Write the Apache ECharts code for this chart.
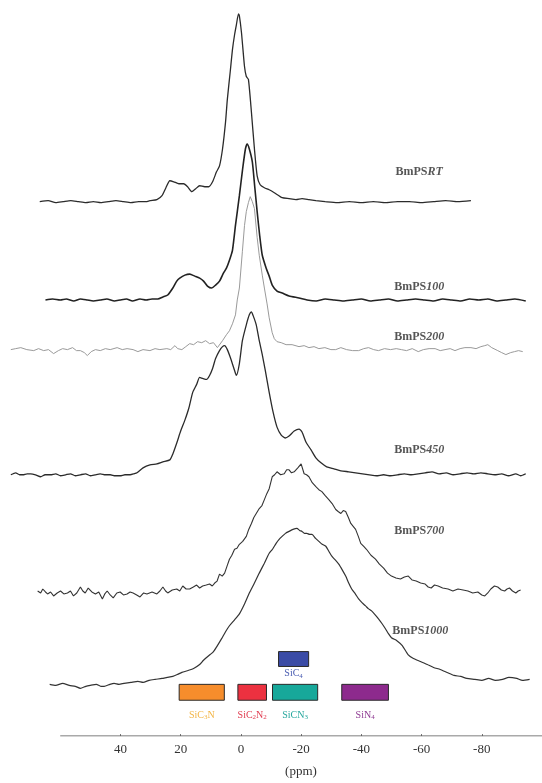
<!DOCTYPE html>
<html>
<head>
<meta charset="utf-8">
<title>29Si MAS NMR – BmPS series</title>
<script src="https://cdn.jsdelivr.net/npm/echarts@6/dist/echarts.min.js"></script>
<style>
  html, body { margin: 0; padding: 0; background: #fff; }
  #chart { width: 542px; height: 783px; }
</style>
</head>
<body>
<div id="chart"></div>
<script>
// Chemical shift tick labels (ppm)
const ppmTicks = [40, 20, 0, -20, -40, -60, -80];
// Extent of the drawn ppm axis line
const axisSpan = [60, -100];

// Spectrum names and their italic suffixes
const sampleNames = ['BmPS', 'BmPS', 'BmPS', 'BmPS', 'BmPS', 'BmPS'];
const sampleSuffix = ['RT', '100', '200', '450', '700', '1000'];

// Vertical offset of each trace in the stack (intensity units)
const traceOffsets = [538, 439, 389, 263, 144, 51];

// Label anchor for each trace: [ppm, height]
const labelPpm = [-59.2, -59.2, -59.2, -59.2, -59.2, -59.6];
const labelHeight = [568, 452, 402, 288, 206, 106];

// Traces: [ppm, intensity above own baseline]
const specRT = [[66.8,0],[64,1],[61.5,-1],[59,0],[56.5,1],[54,0],[51.5,-1],[49,0],[46.5,-1],[44,0],[41.5,1],[39,0],[36.5,-1],[34,0],[31.5,0],[30.2,1],[27.9,2],[26.2,6],[24.9,14],[23.6,21],[22.3,20],[20.6,18],[19.0,18],[17.7,15],[16.3,10],[15.0,13],[13.7,16],[12.0,15],[10.7,15],[9.4,20],[8.1,30],[7.1,36],[6.1,53],[5.1,80],[4.5,103],[3.5,132],[2.8,153],[2.1,168],[1.5,178],[0.8,189],[0.5,187],[-0.2,170],[-1.2,136],[-1.8,126],[-2.5,123],[-3.5,90],[-4.5,53],[-5.4,26],[-6.4,17],[-7.8,14],[-9.4,12],[-11.1,9],[-13.7,4],[-16.0,3],[-18.3,2],[-20.3,3],[-22.6,2],[-24.9,1],[-28,0],[-32,-1],[-36,0],[-40,-1],[-44,0],[-48,-1],[-52,0],[-56,0],[-60,-1],[-64,0],[-68,1],[-72,0],[-76.4,1]];

const spec100 = [[64.9,0],[62.5,1],[60,0],[58,1],[55.5,-1],[53.3,1],[51,0],[49,-1],[46.7,0],[44.5,1],[42,-1],[40.1,0],[38,1],[36,-1],[33.5,1],[31.5,0],[29.5,1],[27.6,1],[25.9,3],[24.3,5],[22.6,12],[21.3,19],[20.3,22],[18.6,25],[17.0,26],[15.3,24],[13.7,22],[12.4,19],[11.1,14],[9.7,12],[8.4,15],[7.1,19],[5.8,27],[4.8,32],[3.8,40],[2.8,50],[1.8,75],[0.5,105],[-0.5,130],[-1.5,152],[-2.1,157],[-2.8,152],[-3.8,139],[-4.6,114],[-5.4,89],[-6.2,66],[-7.1,45],[-8.4,32],[-9.4,24],[-10.4,15],[-12,9],[-13.7,7],[-16,4],[-19.3,2],[-22,0],[-25,-1],[-28,1],[-31,0],[-34,-1],[-37,0],[-40,1],[-43,-1],[-46,0],[-49,1],[-52,-1],[-55,0],[-58,1],[-61,0],[-64,-1],[-67,1],[-70,0],[-73,-1],[-76,1],[-79,0],[-82,1],[-85,-1],[-88,0],[-91,1],[-94.6,-1]];

const spec200 = [[76.4,0],[74.8,1],[73.1,2],[71.1,0],[68.8,-1],[67.2,1],[65.5,-1],[63.9,0],[62.2,-4],[60.6,-1],[59.2,1],[57.6,0],[55.9,2],[54.6,-1],[53.3,-1],[52.0,-3],[51.0,-6],[49.7,-2],[48.3,0],[46.7,-1],[45.0,1],[43.4,0],[41.1,2],[39.4,0],[37.8,1],[35.8,0],[34.2,-2],[32.5,0],[30.2,-1],[28.5,1],[26.9,0],[24.6,1],[23.3,0],[21.9,4],[21.0,1],[19.6,0],[18.3,3],[17.0,6],[15.7,5],[14.4,8],[13.0,7],[11.7,9],[10.4,6],[9.1,7],[7.8,2],[6.1,9],[4.8,15],[3.8,19],[2.8,26],[1.8,35],[1.2,50],[0.5,62],[-0.5,99],[-1.2,125],[-1.8,139],[-2.5,148],[-3.1,154],[-3.8,149],[-4.5,142],[-5.4,113],[-6.1,95],[-7.1,75],[-7.8,62],[-8.7,46],[-9.4,32],[-10.4,17],[-11.1,11],[-12.0,8],[-13.4,7],[-15.0,5],[-17.0,5],[-19.3,3],[-21.0,4],[-22.6,2],[-24.3,3],[-25.9,1],[-27.9,2],[-29.9,0],[-31.5,0],[-33.2,2],[-35.1,0],[-37.1,-1],[-39.1,-1],[-40.8,1],[-42.4,2],[-44.1,0],[-45.7,-1],[-47.7,1],[-49.7,0],[-51.6,1],[-53.3,0],[-55.0,-1],[-56.9,1],[-58.9,-2],[-60.6,0],[-62.5,1],[-64.5,1],[-66.2,-1],[-67.8,0],[-69.5,1],[-71.1,-1],[-72.8,1],[-74.4,2],[-76.4,2],[-78.1,1],[-79.7,3],[-81.0,4],[-82.0,5],[-83.3,2],[-85.3,-1],[-86.6,-3],[-88.0,-5],[-89.6,-3],[-90.9,-2],[-92.2,-1],[-93.6,-2]];

const spec450 = [[76.4,0],[74.8,2],[73.5,0],[72.4,0],[71,1],[69.8,1],[68.2,0],[66.5,-2],[65,0],[63.2,0],[61.5,1],[59.9,-1],[58.2,0],[56.6,1],[55,-1],[53.3,0],[51.6,1],[50.0,-1],[48.4,0],[46.7,1],[45,0],[43.4,0],[41.7,-1],[40.1,-1],[38.5,0],[36.8,0],[35.5,1],[34.5,2],[32.5,7],[30.2,10],[27.9,11],[25.9,13],[23.6,15],[22.6,21],[21.3,32],[20.0,44],[18.6,55],[17.3,67],[16.0,83],[14.7,91],[13.7,98],[12.7,97],[11.4,96],[10.4,100],[9.4,107],[8.4,117],[7.1,125],[6.1,129],[5.4,130],[4.5,126],[3.5,118],[2.1,105],[1.5,100],[0.5,112],[-0.5,135],[-1.8,151],[-2.8,161],[-3.5,164],[-4.1,160],[-5.1,151],[-6.1,135],[-7.1,121],[-8.1,105],[-9.4,83],[-10.7,63],[-12.0,48],[-13.4,40],[-14.7,37],[-16.0,39],[-17.7,44],[-19.3,46],[-20.3,43],[-21.6,33],[-23.3,25],[-24.9,17],[-26.6,12],[-28.5,8],[-30.9,6],[-33.2,4],[-35.8,3],[-38.1,2],[-40.4,1],[-42.7,0],[-45.0,-1],[-47.4,0],[-49.7,-1],[-52.0,0],[-54.3,1],[-56.6,0],[-58.9,1],[-61.2,2],[-63.5,3],[-65.8,1],[-68.2,2],[-70.5,0],[-72.8,1],[-75.1,2],[-77.4,1],[-79.7,2],[-82.0,1],[-84.3,0],[-86.6,1],[-88.9,-1],[-91.3,1],[-92.9,-1],[-94.6,1]];

const spec700 = [[67.5,2],[66.5,0],[65.8,4],[64.9,1],[64.2,-1],[63.2,1],[62.2,-3],[61,0],[59.9,2],[58.8,-1],[57.6,0],[56.6,2],[55.6,-3],[54.5,0],[53.3,6],[52.5,2],[51.7,0],[50.7,5],[49.5,1],[48.3,-1],[47.2,1],[46.0,-6],[45.2,-1],[44.4,2],[43.4,-2],[42.4,-5],[41.2,0],[40.1,1],[39,-2],[37.8,-1],[36.8,1],[35.8,0],[34.6,-2],[33.5,-4],[32.3,0],[31.2,-1],[29.5,1],[27.9,-1],[26.9,2],[25.9,6],[25,2],[24.3,0],[22.8,3],[21.3,4],[20.3,2],[19.3,7],[18.2,4],[17.0,4],[15.8,6],[14.7,8],[13.7,5],[12.7,7],[11.5,8],[10.4,9],[9.5,7],[8.7,10],[7.9,12],[7.1,19],[6.2,17],[5.4,20],[4.6,27],[3.8,34],[3.0,38],[2.1,44],[1.3,45],[0.5,49],[-0.6,52],[-1.8,57],[-2.6,64],[-3.5,70],[-4.3,76],[-5.1,80],[-6.1,85],[-7.0,88],[-7.8,94],[-8.6,100],[-9.4,105],[-10.4,117],[-11.2,119],[-12.0,122],[-13.2,119],[-14.4,120],[-15.2,124],[-16.0,124],[-16.8,121],[-17.7,122],[-18.9,126],[-20.0,130],[-21.0,120],[-21.8,119],[-22.6,117],[-23.7,111],[-24.9,107],[-25.9,104],[-26.9,102],[-28,98],[-29.2,94],[-30.3,90],[-31.5,84],[-32.3,82],[-33.2,80],[-34.0,83],[-34.8,82],[-35.7,76],[-36.5,70],[-37.3,67],[-38.1,64],[-39.0,57],[-39.8,50],[-40.8,47],[-41.7,44],[-43.2,38],[-44.7,34],[-46,29],[-47.4,25],[-48.7,20],[-50.0,17],[-51.5,15],[-53.0,14],[-54.3,16],[-55.6,17],[-56.9,13],[-58.2,12],[-59.7,10],[-61.2,9],[-62.2,6],[-63.2,5],[-64.3,8],[-65.5,7],[-67,5],[-68.8,4],[-70.4,2],[-72.1,4],[-73.8,3],[-75.4,2],[-77,0],[-78.7,1],[-80,-2],[-81.0,-3],[-82,0],[-83.0,4],[-84.2,7],[-85.3,6],[-86.5,3],[-87.6,2],[-88.4,4],[-89.2,5],[-90.2,2],[-91.3,0],[-92.1,2],[-92.9,3]];

const spec1000 = [[63.5,1],[61.5,0],[59.2,2],[57,0],[55,-1],[53.3,-3],[51.5,-1],[50.0,0],[48,1],[46.5,-1],[45.4,-1],[43.5,1],[42.1,2],[40.5,1],[38.8,2],[36.5,3],[34.2,4],[32.5,3],[30.5,5],[28.5,6],[26.2,7],[24.5,8],[22.6,9],[21,11],[19.6,13],[17.5,15],[15.7,17],[13.7,21],[12.5,25],[11.4,28],[10.2,31],[9.1,34],[7.8,40],[6.4,47],[5.1,54],[3.8,60],[2.1,66],[0.5,72],[-1.2,82],[-2.8,93],[-4.5,103],[-6.1,113],[-7.8,123],[-9.4,133],[-10.5,137],[-11.7,143],[-12.7,147],[-13.7,150],[-14.8,153],[-16.0,155],[-17.3,157],[-18.6,158],[-19.5,156],[-20.3,155],[-21.1,153],[-21.9,153],[-22.8,152],[-23.6,152],[-24.8,148],[-25.9,145],[-27,142],[-28.2,140],[-29.2,135],[-30.2,130],[-31.4,126],[-32.5,122],[-33.7,116],[-34.8,110],[-35.8,103],[-36.8,97],[-38.0,92],[-39.1,87],[-40.3,83],[-41.4,80],[-42.4,77],[-43.4,75],[-44.6,71],[-45.7,67],[-46.9,62],[-48.0,57],[-49.0,52],[-50.0,48],[-51.8,45],[-53.6,40],[-55.5,31],[-57.3,27],[-59.6,24],[-61.9,21],[-64,18],[-66.2,16],[-68.5,13],[-70.8,10],[-73,9],[-75,7],[-77.7,6],[-80,5],[-82.3,7],[-84.5,5],[-86.9,6],[-89,8],[-91.6,7],[-93.5,5],[-95.9,6]];

// Reference shift ranges of the Si environments
const siteNames = ['SiC4', 'SiC3N', 'SiC2N2', 'SiCN3', 'SiN4'];
const siteFrom = [-12.5, 20.5, 1, -10.5, -33.5];
const siteTo = [-22.5, 5.5, -8.5, -25.5, -49];
const siteBottom = [70, 36, 36, 36, 36];
const siteTop = [85, 52, 52, 52, 52];
const siteLabelHeight = [63, 21, 21, 21, 21];
const siteFill = ['#3a4ba6', '#f68d2c', '#ec3140', '#17a89a', '#8d2a8d'];
const siteText = ['#4a5db2', '#f3b545', '#e03a4e', '#26a79d', '#8e3a92'];

const traces = [specRT, spec100, spec200, spec450, spec700, spec1000];
const traceColor = ['#2b2b2b', '#222222', '#9a9a9a', '#2b2b2b', '#333333', '#333333'];
const traceWidth = [1.3, 1.6, 1.0, 1.3, 1.1, 1.2];

const serif = '"Liberation Serif", "Times New Roman", serif';

function subscripted(name) {
  return name.replace(/(\d)/g, '{s|$1}');
}

const chart = echarts.init(document.getElementById('chart'), null, { renderer: 'canvas' });

const series = traces.map((tr, i) => ({
  type: 'line',
  name: sampleNames[i] + sampleSuffix[i],
  data: tr.map(p => [p[0], p[1] + traceOffsets[i]]),
  showSymbol: false,
  symbol: 'none',
  smooth: (i === 2 || i === 4) ? false : 0.2,
  lineStyle: { color: traceColor[i], width: traceWidth[i] },
  z: 3
}));

// ppm axis line, drawn only over the scale's span
series.push({
  type: 'line',
  name: 'ppm-axis',
  silent: true,
  data: axisSpan.map(v => [v, 0]),
  showSymbol: false,
  symbol: 'none',
  lineStyle: { color: '#555', width: 1.2 },
  z: 2
});

series.push({
  type: 'scatter',
  name: 'labels',
  symbolSize: 0,
  silent: true,
  data: labelPpm.map((x, i) => [x, labelHeight[i]]),
  label: {
    show: true,
    position: 'inside',
    formatter: p => '{b|' + sampleNames[p.dataIndex] + '}{i|' + sampleSuffix[p.dataIndex] + '}',
    rich: {
      b: { fontFamily: serif, fontWeight: 'bold', fontSize: 12, color: '#2a2a2a' },
      i: { fontFamily: serif, fontWeight: 'bold', fontStyle: 'italic', fontSize: 12, color: '#2a2a2a' }
    }
  },
  z: 5
});

series.push({
  type: 'custom',
  name: 'sites',
  silent: true,
  data: siteNames.map((n, i) => [siteFrom[i], siteTo[i], siteBottom[i], siteTop[i], siteLabelHeight[i]]),
  encode: { x: [0, 1], y: [2, 3] },
  renderItem: function (params, api) {
    const i = params.dataIndex;
    const a = api.coord([api.value(0), api.value(3)]);
    const b = api.coord([api.value(1), api.value(2)]);
    const t = api.coord([(api.value(0) + api.value(1)) / 2, api.value(4)]);
    return {
      type: 'group',
      children: [
        {
          type: 'rect',
          shape: {
            x: Math.min(a[0], b[0]),
            y: Math.min(a[1], b[1]),
            width: Math.abs(b[0] - a[0]),
            height: Math.abs(b[1] - a[1])
          },
          style: { fill: siteFill[i], stroke: '#2a2a2a', lineWidth: 1 }
        },
        {
          type: 'text',
          x: t[0],
          y: t[1],
          style: {
            text: subscripted(siteNames[i]),
            fill: siteText[i],
            font: '10px ' + serif,
            align: 'center',
            verticalAlign: 'middle',
            rich: {
              s: { fill: siteText[i], fontSize: 7, fontFamily: serif, padding: [5, 0, 0, 0] }
            }
          }
        }
      ]
    };
  },
  z: 4
});

chart.setOption({
  animation: false,
  backgroundColor: '#ffffff',
  grid: { left: -1, right: -2.5, top: 0, bottom: 42, containLabel: false },
  xAxis: {
    type: 'value',
    inverse: true,
    min: -100,
    max: 80,
    interval: 20,
    name: '(ppm)',
    nameLocation: 'middle',
    nameGap: 29,
    nameTextStyle: { fontFamily: serif, fontSize: 13, color: '#333', padding: [0, 0, 0, 60] },
    axisLine: { show: false },
    axisTick: { show: true, inside: true, length: 2, customValues: ppmTicks, lineStyle: { color: '#777' } },
    splitLine: { show: false },
    axisLabel: {
      margin: 7,
      fontFamily: serif,
      fontSize: 13,
      color: '#333',
      customValues: ppmTicks,
      formatter: v => (ppmTicks.indexOf(v) >= 0 ? String(v) : '')
    }
  },
  yAxis: {
    type: 'value',
    min: 0,
    max: 741,
    show: false
  },
  series: series
});
</script>
</body>
</html>
